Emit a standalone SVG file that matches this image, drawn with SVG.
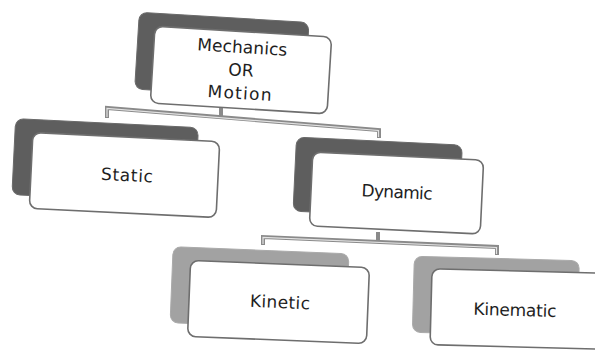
<svg xmlns="http://www.w3.org/2000/svg" width="595" height="350" viewBox="0 0 595 350">
<style>
.back1{fill:#5e5e5e;stroke:#6a6a6a;stroke-width:1}
.back2{fill:#a2a2a2;stroke:#aaaaaa;stroke-width:1}
.front{fill:#ffffff;stroke:#6e6e6e;stroke-width:1.6}
.lbl{font-family:"DejaVu Sans","Open Sans",sans-serif;font-size:17px;fill:#1e1e1e;text-anchor:middle}
.ln{fill:none;stroke:#8a8a8a;stroke-width:4;stroke-linejoin:miter}
.lni{fill:none;stroke:#e2e2e2;stroke-width:1.2}
</style>
<rect width="595" height="350" fill="#ffffff"/>
<g id="connectors">
<polyline class="ln" points="221,103 221,116"/>
<polyline class="ln" points="107,118 107,108 379,130 379,138"/>
<polyline class="lni" points="107,117 107,108.5 378.5,130.5 378.5,137"/>
<polyline class="ln" points="378,232 378,242"/>
<polyline class="ln" points="263,245 263,237 497,247 497,255"/>
<polyline class="lni" points="263,244 263,237.5 496.5,247.5 496.5,254"/>
</g>
<g id="mechanics" transform="rotate(3.5 241 70)">
<rect class="back1" x="136" y="18.5" width="170" height="77" rx="8"/>
<rect class="front" x="152.5" y="31.5" width="177" height="77" rx="8"/>
<text class="lbl" x="241" y="53" textLength="90" lengthAdjust="spacing">Mechanics</text>
<text class="lbl" x="241" y="76">OR</text>
<text class="lbl" x="241" y="99" textLength="64" lengthAdjust="spacing">Motion</text>
</g>
<g id="static" transform="rotate(2.8 124.5 175)">
<rect class="back1" x="13" y="124" width="183" height="76" rx="8"/>
<rect class="front" x="31" y="137" width="187" height="76" rx="8"/>
<text class="lbl" x="127" y="181" textLength="52" lengthAdjust="spacing">Static</text>
</g>
<g id="dynamic" transform="rotate(2.7 396.5 193)">
<rect class="back1" x="294" y="142" width="166" height="74" rx="8"/>
<rect class="front" x="311" y="156" width="171" height="74" rx="8"/>
<text class="lbl" x="397" y="198" textLength="71" lengthAdjust="spacing">Dynamic</text>
</g>
<g id="kinetic" transform="rotate(2.3 278.5 302)">
<rect class="back2" x="171" y="251" width="176" height="76" rx="8"/>
<rect class="front" x="189" y="264" width="179" height="76" rx="8"/>
<text class="lbl" x="280" y="308" textLength="60" lengthAdjust="spacing">Kinetic</text>
</g>
<g id="kinematic" transform="rotate(1.5 518 309)">
<rect class="back2" x="413" y="259" width="165" height="76" rx="8"/>
<rect class="front" x="431" y="271" width="175" height="76" rx="8"/>
<text class="lbl" x="515" y="316" textLength="83" lengthAdjust="spacing">Kinematic</text>
</g>
</svg>
